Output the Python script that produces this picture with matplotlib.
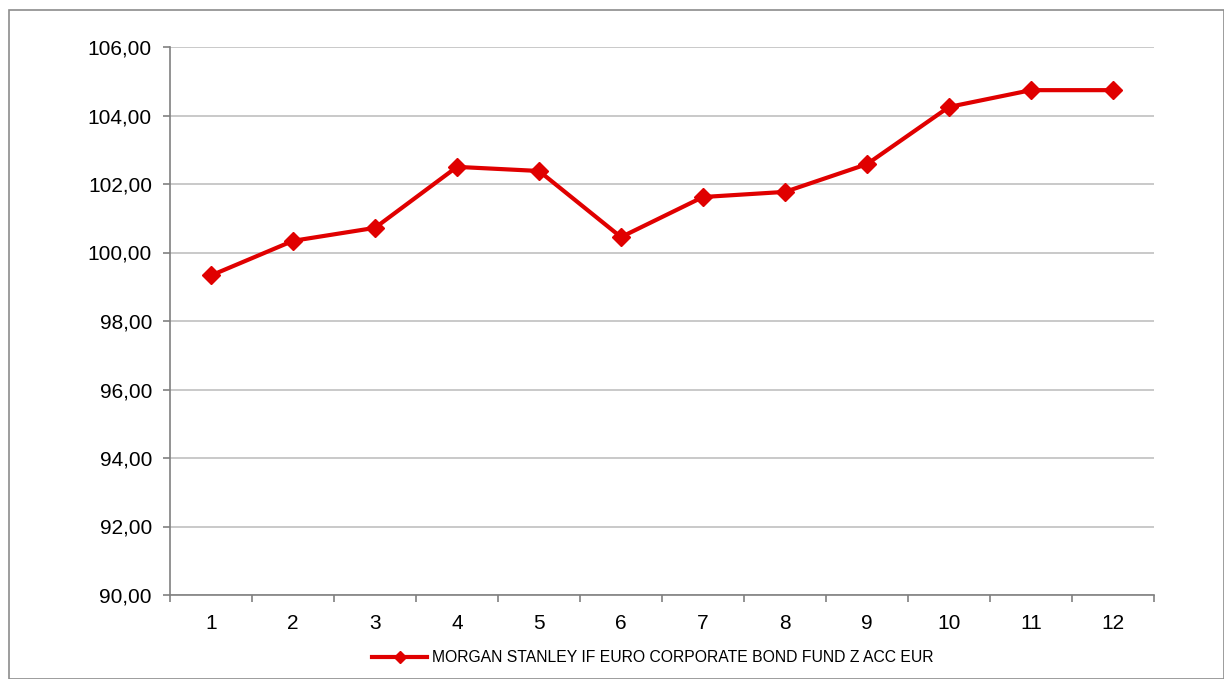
import matplotlib
matplotlib.use("Agg")
import matplotlib.pyplot as plt
from matplotlib.patches import Rectangle
from matplotlib.ticker import FixedLocator, FuncFormatter

categories = [1, 2, 3, 4, 5, 6, 7, 8, 9, 10, 11, 12]
values = [99.33, 100.34, 100.72, 102.50, 102.38, 100.45, 101.62, 101.77, 102.58, 104.25, 104.74, 104.74]
series_name = "MORGAN STANLEY IF EURO CORPORATE BOND FUND Z ACC EUR"
y_ticks = [90, 92, 94, 96, 98, 100, 102, 104, 106]

plt.rcParams['font.family'] = ['Liberation Sans', 'DejaVu Sans']

W, H = 1224, 679
fig = plt.figure(figsize=(W / 100, H / 100), dpi=100)
fig.patches.append(Rectangle((9 / W, 0), 1 - 9 / W - 0.5 / W, 1 - 10 / H, transform=fig.transFigure,
                             fill=False, edgecolor='#8c8c8c', linewidth=1.2))

ax = fig.add_axes([170 / W, 1 - 595 / H, (1154 - 170) / W, (595 - 47) / H])
red = '#e00000'
line, = ax.plot(categories, values, color=red, linewidth=3, marker='D', markersize=9,
                markeredgecolor=red, markerfacecolor=red, label=series_name, zorder=3)

ax.set_xlim(0.5, 12.5)
ax.set_ylim(90, 106)
ax.yaxis.set_major_locator(FixedLocator(y_ticks))
ax.yaxis.set_major_formatter(FuncFormatter(lambda v, p: f"{v:.2f}".replace('.', ',')))
ax.grid(axis='y', color='#c0c0c0', linewidth=1.2, zorder=0)

ax.xaxis.set_major_locator(FixedLocator([c - 0.5 for c in categories] + [categories[-1] + 0.5]))
ax.xaxis.set_major_formatter(FuncFormatter(lambda v, p: ""))
ax.xaxis.set_minor_locator(FixedLocator(categories))
ax.xaxis.set_minor_formatter(FuncFormatter(lambda v, p: f"{int(round(v))}"))
ax.tick_params(axis='x', which='major', length=5, color='#808080', width=1.2, direction='out')
ax.tick_params(axis='x', which='minor', length=0, labelsize=15, pad=14)
ax.tick_params(axis='y', which='major', length=5, color='#808080', width=1.2, labelsize=15, pad=8)

for s in ['top', 'right']:
    ax.spines[s].set_visible(False)
for s in ['left', 'bottom']:
    ax.spines[s].set_color('#808080')
    ax.spines[s].set_linewidth(1.2)

fig.legend(handles=[line], loc='center', bbox_to_anchor=(653 / W, 1 - 658 / H), frameon=False,
           fontsize=11.3, handlelength=3.5, handletextpad=0.3)
leg = fig.legends[0]
for h in leg.legend_handles:
    h.set_markersize(6)

fig.savefig("out.png", dpi=100)
